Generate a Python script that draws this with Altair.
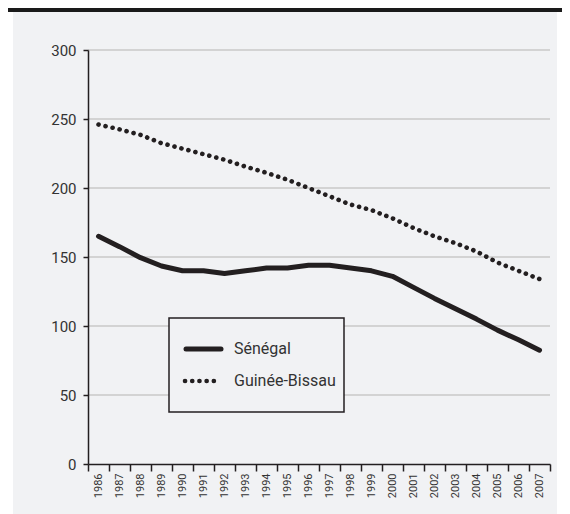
import altair as alt
import pandas as pd

# ---- data ----
years = [str(y) for y in range(1986, 2008)]
senegal = [165, 157.5, 149.5, 143.5, 140, 140, 138, 140, 142, 142, 144,
           144, 142, 140, 136, 128, 120, 112.5, 105, 97, 90, 82.5]
guinee_bissau = [246, 242.5, 238.5, 232.5, 228.5, 224.5, 220.5, 215.5, 211,
                 206, 200, 194, 188, 184, 178, 171, 165, 160, 154, 146, 140, 134]
series_names = ["Sénégal", "Guinée-Bissau"]
y_ticks = [0, 50, 100, 150, 200, 250, 300]
grid_values = [50, 100, 150, 200, 250, 300]

W, H = 462, 414
BG = "#f1f2f4"
INK = "#231f20"
FONT = "Roboto"

df_sen = pd.DataFrame({"year": years, "value": senegal, "series": series_names[0]})
df_gb = pd.DataFrame({"year": years, "value": guinee_bissau, "series": series_names[1]})
df_grid = pd.DataFrame({"value": grid_values})
one = pd.DataFrame({"a": [0]})

x_scale = alt.Scale(type="band", domain=years, paddingInner=0, paddingOuter=0)
y_scale = alt.Scale(domain=[0, 300], nice=False, zero=True)

x_axis = alt.Axis(
    title=None, tickBand="extent", labelAngle=270, labelAlign="right",
    labelBaseline="middle", labelFontSize=11, labelFont=FONT, labelColor="#333333",
    labelPadding=2, tickSize=7, tickWidth=1.5, tickColor=INK,
    domainColor=INK, domainWidth=1.5, grid=False, zindex=1,
)
y_axis = alt.Axis(
    title=None, values=y_ticks, labelFontSize=15, labelFont=FONT,
    labelColor="#333333", labelPadding=7, tickSize=5, tickWidth=1.5,
    tickColor=INK, domainColor=INK, domainWidth=1.5, grid=False, zindex=1,
)

background = alt.Chart(one).mark_rect(color=BG).encode(
    x=alt.value(-75), x2=alt.value(W + 7), y=alt.value(-38), y2=alt.value(H + 50)
)
top_bar = alt.Chart(one).mark_rect(color="#1a1a1a").encode(
    x=alt.value(-80), x2=alt.value(W + 12), y=alt.value(-42), y2=alt.value(-38)
)
grid = alt.Chart(df_grid).mark_rule(color="#c9c9c9", strokeWidth=1.5).encode(
    y=alt.Y("value:Q", scale=y_scale, axis=y_axis),
    x=alt.value(0), x2=alt.value(W),
)

line_sen = alt.Chart(df_sen).mark_line(
    color=INK, strokeWidth=5, strokeJoin="round", strokeCap="round"
).encode(
    x=alt.X("year:O", scale=x_scale, axis=x_axis, bandPosition=0.5, sort=years),
    y=alt.Y("value:Q", scale=y_scale, axis=y_axis),
)
line_gb = alt.Chart(df_gb).mark_line(
    color=INK, strokeWidth=4.6, strokeCap="round", strokeDash=[0.1, 7.1]
).encode(
    x=alt.X("year:O", scale=x_scale, axis=x_axis, bandPosition=0.5, sort=years),
    y=alt.Y("value:Q", scale=y_scale, axis=y_axis),
)

# ---- legend box ----
leg_box = alt.Chart(one).mark_rect(fill=BG, stroke=INK, strokeWidth=1.5).encode(
    x=alt.value(81), x2=alt.value(256), y=alt.value(268), y2=alt.value(362)
)
leg_sen = alt.Chart(one).mark_rule(color=INK, strokeWidth=5, strokeCap="round").encode(
    x=alt.value(98), x2=alt.value(133), y=alt.value(299)
)
leg_gb = alt.Chart(one).mark_rule(
    color=INK, strokeWidth=4.6, strokeCap="round", strokeDash=[0.1, 7.1]
).encode(x=alt.value(97), x2=alt.value(128), y=alt.value(331))
leg_t1 = alt.Chart(one).mark_text(
    align="left", baseline="middle", font=FONT, fontSize=16, color="#333333"
).encode(x=alt.value(146), y=alt.value(299), text=alt.value(series_names[0]))
leg_t2 = alt.Chart(one).mark_text(
    align="left", baseline="middle", font=FONT, fontSize=16, color="#333333"
).encode(x=alt.value(146), y=alt.value(331), text=alt.value(series_names[1]))

chart = alt.layer(
    background, top_bar, grid, line_gb, line_sen, leg_box, leg_sen, leg_gb, leg_t1, leg_t2
).properties(
    width=W, height=H,
    autosize=alt.AutoSizeParams(type="none"),
    padding={"left": 80, "top": 42, "right": 12, "bottom": 50},
).configure_view(stroke=None)

chart.save("out.html", embed_options={"renderer": "svg", "actions": False})
